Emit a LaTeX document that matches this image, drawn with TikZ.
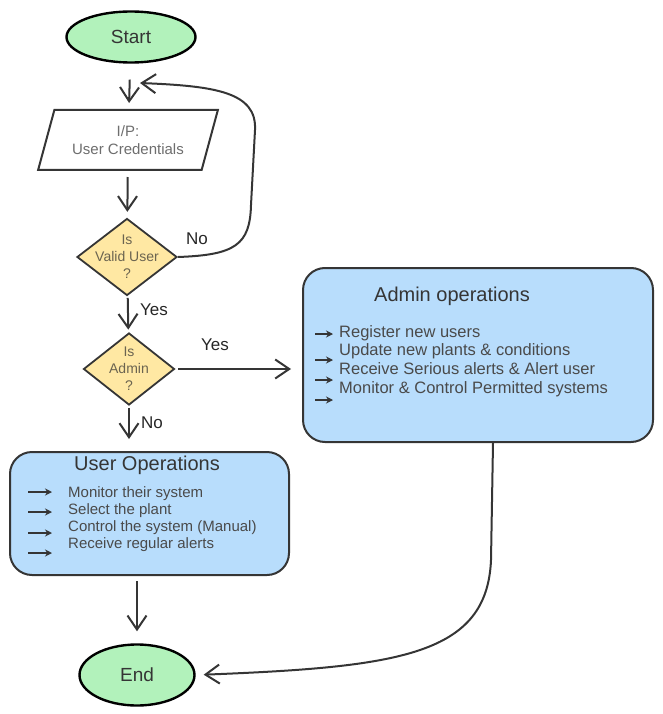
\documentclass[tikz,border=0pt]{standalone}
\usepackage{fontspec}
\setmainfont{Liberation Sans}
\usepackage{tikz}
\usetikzlibrary{positioning,shapes.geometric,arrows.meta}
\definecolor{termgreen}{HTML}{B2F2BB}
\definecolor{decyellow}{HTML}{FFE8A3}
\definecolor{opsblue}{HTML}{B8DDFC}
\definecolor{inkgray}{HTML}{353535}
\definecolor{txtgray}{HTML}{4A4A4A}
\definecolor{dectxt}{HTML}{6B6450}

\tikzset{
	terminal/.style={ellipse, draw=black, line width=2.4pt, fill=termgreen, inner sep=0pt, font=\fontsize{19}{22}\selectfont, text=inkgray},
	inbox/.style={trapezium, trapezium left angle=67, trapezium right angle=113, trapezium stretches=true, draw=inkgray, line width=2pt, fill=white, inner sep=0pt, align=center, text=txtgray!80, font=\fontsize{15}{18}\selectfont},
	decision/.style={diamond, draw=inkgray, line width=1.8pt, fill=decyellow, inner sep=0pt},
	dectext/.style={align=center, text=dectxt, font=\fontsize{14}{17}\selectfont},
	opsbox/.style={rectangle, rounded corners=22pt, draw=inkgray, line width=2pt, fill=opsblue, inner sep=0pt},
	opstitle/.style={text=inkgray, font=\fontsize{20}{24}\selectfont},
	opsitems/.style={anchor=north west, inner sep=0pt, align=left, text=txtgray},
	flow/.style={->, line width=2pt, draw=inkgray, >={Straight Barb[length=14pt,width=19pt]}},
	bullet/.style={-{Stealth[length=7pt,width=7pt]}, line width=1.6pt, draw=inkgray},
	answer/.style={font=\fontsize{17}{20}\selectfont, text=black!85}
}

\begin{document}
\begin{tikzpicture}[x=1pt, y=-1pt]
		\useasboundingbox (0,0) rectangle (662,714);
		\node[terminal, minimum width=129pt, minimum height=51pt] (start) at (131,37) {Start};
		\node[inbox, minimum width=180pt, minimum height=60pt] (input) at (128,140) {I/P:\\User Credentials};
		\node[decision, minimum width=100pt, minimum height=77pt] (valid) at (127,257) {};
		\node[dectext] (validtext) at (valid) {Is\\Valid User\\?};
		\node[decision, minimum width=91pt, minimum height=72pt] (admin) at (129,369) {};
		\node[dectext] (admintext) at (admin) {Is\\Admin\\?};
		\node[opsbox, minimum width=279pt, minimum height=123pt] (userops) at (149.5,513.5) {};
		\node[opstitle] (usertitle) at (147,465) {User Operations};
		\node[opsitems, font=\fontsize{15}{17.3}\selectfont] (useritems) at (68,486) {Monitor their system\\Select the plant\\Control the system (Manual)\\Receive regular alerts};
		\node[opsbox, minimum width=350pt, minimum height=174pt] (adminops) at (478,355) {};
		\node[opstitle] (admintitle) at (452,296) {Admin operations};
		\node[opsitems, font=\fontsize{16.5}{18.8}\selectfont] (adminitems) at (339,325) {Register new users\\Update new plants \& conditions\\Receive Serious alerts \& Alert user\\Monitor \& Control Permitted systems};
		\node[terminal, minimum width=115pt, minimum height=61pt] (end) at (137,675) {End};
		\node[answer] (no1) at (197,239) {No};
		\node[answer] (yes1) at (154,310) {Yes};
		\node[answer] (yes2) at (215,345) {Yes};
		\node[answer] (no2) at (152,423) {No};
		\coordinate (back) at (140,83);
		\draw[flow, shorten <=16pt, shorten >=6pt] (start) -- (input);
		\draw[flow, shorten <=6pt, shorten >=6pt] (input) -- (valid);
		\draw[flow, shorten <=2pt, shorten >=3pt] (valid) -- (admin);
		\draw[flow, shorten <=3pt, shorten >=11pt] (admin.east) -- (admin.east -| adminops.west);
		\draw[flow, shorten <=2pt, shorten >=12pt] (admin) -- (admin |- userops.north);
		\draw[flow] (valid.east) .. controls (235,255) and (250,245) .. (251,205) -- (255,130) .. controls (257,92) and (215,86) .. (back);
		\draw[flow, shorten <=5pt, shorten >=12pt] (end |- userops.south) -- (end);
		\draw[flow, shorten >=8pt] ([xshift=15pt]adminops.south) -- (491,560) .. controls (487,655) and (400,667) .. (end.east);
		\foreach \y in {492,512,533,553} \draw[bullet] (28,\y) -- (52,\y);
		\foreach \y in {334,360,380,400} \draw[bullet] (315,\y) -- (333,\y);
	\end{tikzpicture}
\end{document}
